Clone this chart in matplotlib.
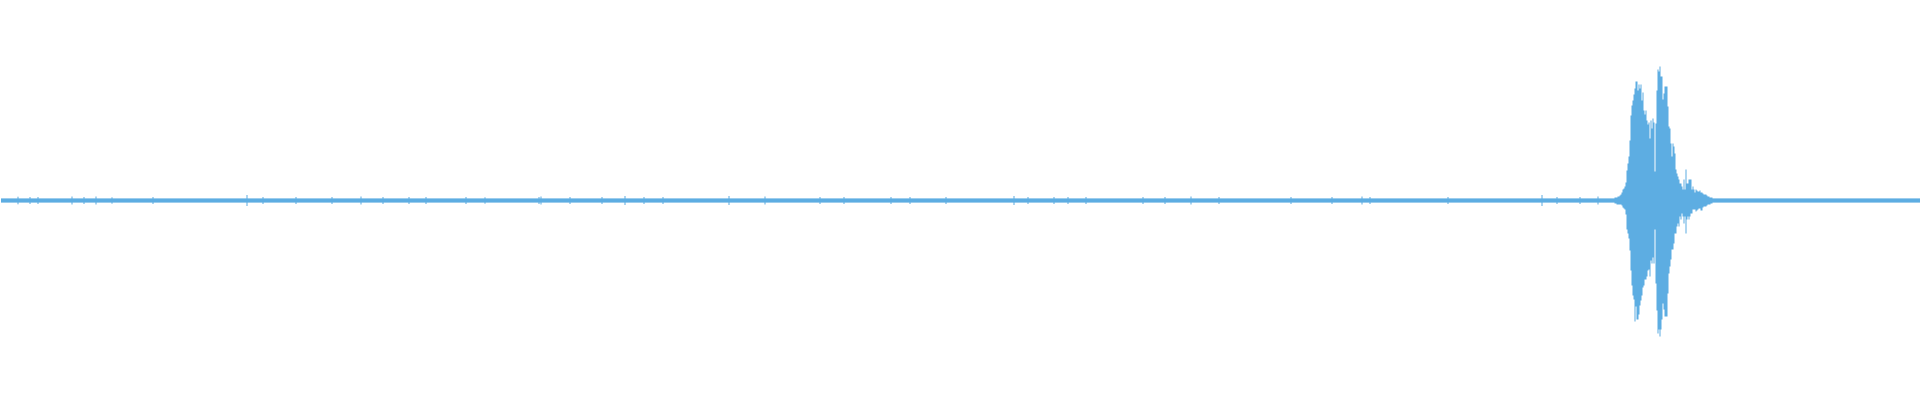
import matplotlib
matplotlib.use("Agg")
import matplotlib.pyplot as plt
import numpy as np

# waveform drawn as one column per sample block (1920 blocks)
n_blocks = 1920
wave_color = "#5dade2"

# quiet background level (amplitude, full scale = 200)
noise_level = 2.1

# isolated clicks in the quiet part: block index, amplitude
click_pos = [17, 29, 37, 71, 83, 95, 111, 152, 246, 262, 295, 331, 360, 382,
             408, 425, 465, 484, 538, 540, 569, 601, 624, 643, 662, 728, 764,
             819, 843, 890, 909, 945, 1013, 1027, 1053, 1067, 1085, 1142, 1164,
             1190, 1218, 1290, 1331, 1361, 1369, 1447, 1541, 1556, 1579, 1597]
click_amp = [3.8, 3.5, 3.5, 4.0, 3.5, 4.0, 3.2, 3.5, 5.5, 3.5, 3.5, 3.5, 4.0, 3.5,
             3.5, 3.5, 3.5, 3.2, 3.5, 4.0, 3.5, 3.5, 4.5, 3.5, 3.5, 4.5, 4.0,
             3.5, 3.5, 3.5, 3.5, 3.5, 4.5, 3.5, 3.5, 3.5, 3.5, 3.5, 3.5,
             4.0, 3.5, 3.5, 3.5, 4.0, 3.5, 3.5, 5.5, 3.5, 3.5, 4.0]

# the loud event, one value per block starting at burst_start
burst_start = 1614
burst_top = [3, 3, 3, 4, 4, 5, 6, 8, 11, 12, 14, 18, 30, 37, 44, 60, 85, 95, 100,
             106, 112, 119, 119, 110, 116, 112, 116, 100, 108, 90, 86, 90, 80, 76,
             78, 62, 80, 72, 82, 78, 29, 77, 110, 131, 129, 134, 124, 124, 101,
             107, 114, 114, 114, 94, 74, 72, 57, 44, 57, 54, 47, 31, 27, 24, 21,
             17, 17, 14, 11, 21, 11, 31, 17, 17, 21, 21, 21, 11, 14, 11, 8, 11,
             10, 9, 9, 10, 8, 8, 7, 6, 6, 6, 5, 4, 4, 3, 3, 3]
burst_bot = [3, 3, 4, 4, 4, 4, 4, 5, 7, 8, 9, 14, 29, 33, 38, 50, 70, 85, 95,
             99, 121, 106, 119, 119, 114, 105, 100, 95, 87, 85, 79, 79, 76, 70,
             69, 76, 60, 63, 57, 63, 29, 83, 110, 133, 129, 136, 129, 119, 103,
             109, 116, 116, 116, 93, 73, 66, 59, 49, 49, 43, 33, 33, 26, 23, 26,
             16, 19, 13, 16, 23, 16, 33, 19, 16, 19, 16, 13, 13, 9, 9, 9, 11,
             10, 9, 8, 8, 10, 10, 7, 6, 6, 6, 5, 4, 4, 4, 3, 3]

x = np.arange(n_blocks)
top = np.full(n_blocks, noise_level)
bot = np.full(n_blocks, noise_level)
top[click_pos] = click_amp
bot[click_pos] = click_amp
idx = burst_start + np.arange(len(burst_top))
top[idx] = burst_top
bot[idx] = burst_bot

fig = plt.figure(figsize=(19.2, 4), dpi=100)
ax = fig.add_axes([0, 0, 1, 1])
ax.fill_between(x, -bot, top, step="mid", color=wave_color, linewidth=0)
ax.set_xlim(-0.5, n_blocks - 0.5)
ax.set_ylim(-200, 200)
ax.axis("off")

fig.savefig("out.png", dpi=100, facecolor="white")
